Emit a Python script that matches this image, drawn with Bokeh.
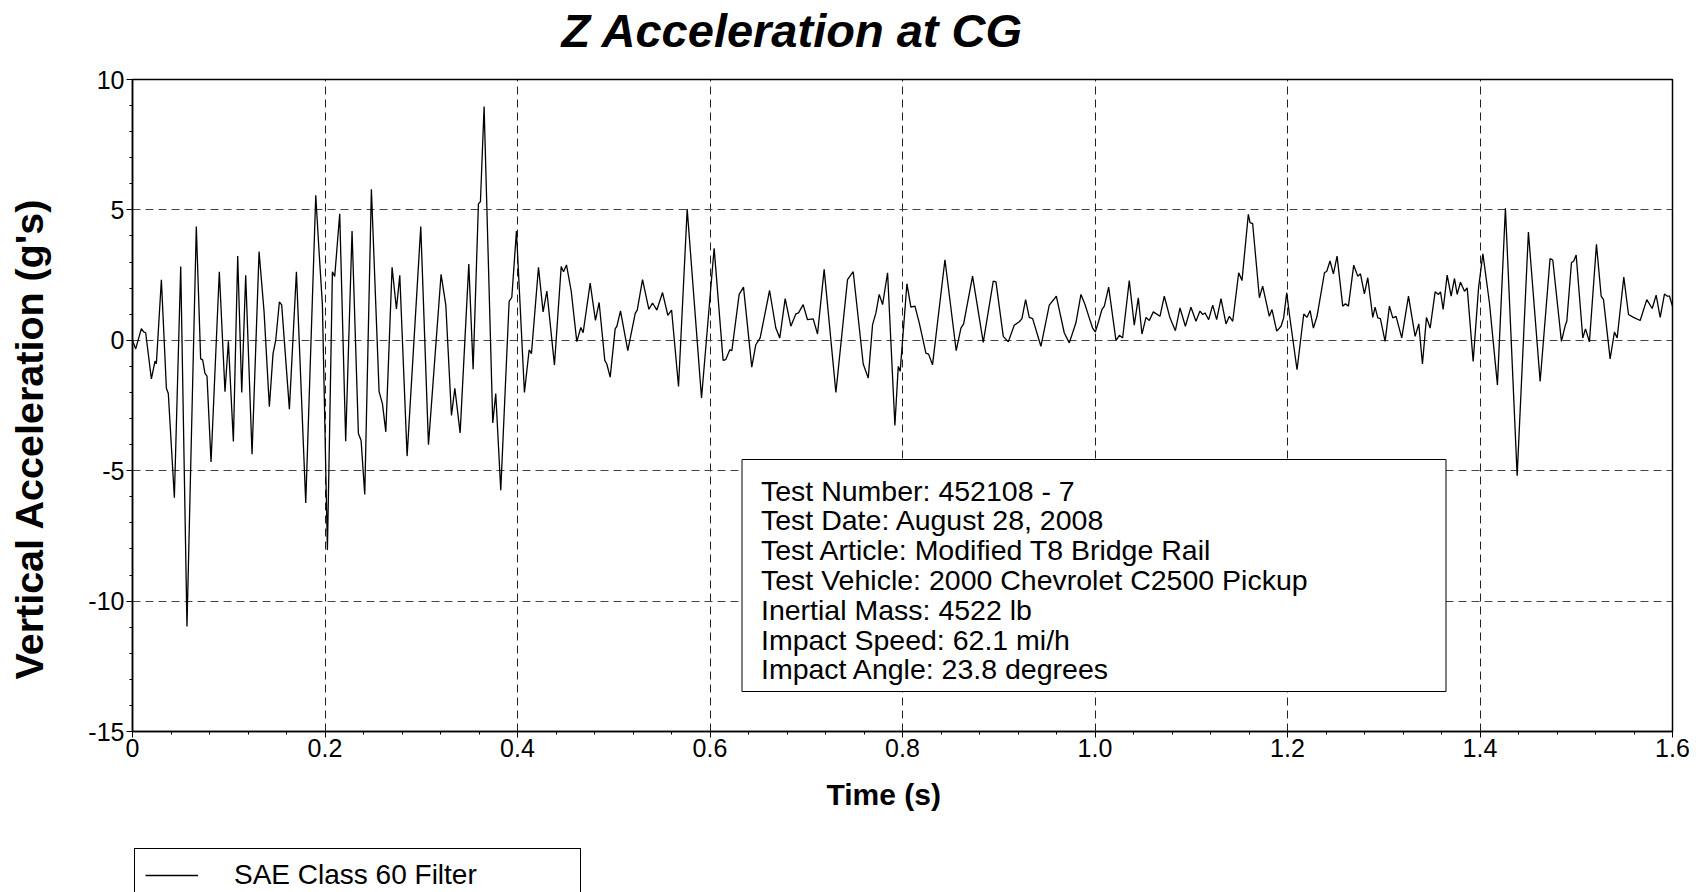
from bokeh.plotting import figure
from bokeh.layouts import column
from bokeh.models import (Range1d, FixedTicker, Label, Legend, LegendItem, Title,
                          BoxAnnotation, ColumnDataSource)
from bokeh.embed import file_html
from bokeh.resources import INLINE

# ---------------- data ----------------
time_s = [
    # 0 - 0.19 s
    0.0000, 0.0033, 0.0092, 0.0116, 0.0137, 0.0196, 0.0234, 0.0248, 0.0300, 0.0352,
    0.0372, 0.0435, 0.0501, 0.0566, 0.0663, 0.0708, 0.0729, 0.0753, 0.0774, 0.0816,
    0.0902, 0.0961, 0.0996, 0.1048, 0.1093, 0.1135, 0.1176, 0.1242, 0.1315, 0.1367,
    0.1422, 0.1460, 0.1488, 0.1526, 0.1550, 0.1630, 0.1703, 0.1800, 0.1904,
    # 0.19 - 0.39 s
    0.1940, 0.1973, 0.2025, 0.2049, 0.2077, 0.2101, 0.2153, 0.2215, 0.2281, 0.2347,
    0.2375, 0.2413, 0.2482, 0.2562, 0.2597, 0.2632, 0.2697, 0.2742, 0.2777, 0.2853,
    0.2995, 0.3075, 0.3206, 0.3255, 0.3314, 0.3349, 0.3404, 0.3494, 0.3539, 0.3594,
    0.3615, 0.3653, 0.3743, 0.3774, 0.3826, 0.3913,
    # 0.39 - 0.59 s
    0.3941, 0.3989, 0.4072, 0.4121, 0.4145, 0.4218, 0.4266, 0.4305, 0.4384, 0.4454,
    0.4478, 0.4509, 0.4558, 0.4616, 0.4658, 0.4682, 0.4755, 0.4810, 0.4848, 0.4907,
    0.4928, 0.4963, 0.5015, 0.5032, 0.5070, 0.5146, 0.5223, 0.5244, 0.5299, 0.5365,
    0.5403, 0.5448, 0.5507, 0.5562, 0.5601, 0.5673, 0.5763, 0.5912,
    # 0.60 - 0.79 s
    0.6043, 0.6136, 0.6164, 0.6206, 0.6227, 0.6303, 0.6348, 0.6434, 0.6476, 0.6521,
    0.6619, 0.6684, 0.6725, 0.6781, 0.6840, 0.6892, 0.6920, 0.6968, 0.7013, 0.7072,
    0.7117, 0.7186, 0.7308, 0.7429, 0.7488, 0.7592, 0.7644, 0.7689, 0.7724, 0.7758,
    0.7793, 0.7845, 0.7921,
    # 0.79 - 0.99 s
    0.7956, 0.7976, 0.8046, 0.8087, 0.8129, 0.8174, 0.8243, 0.8271, 0.8312, 0.8441,
    0.8558, 0.8607, 0.8635, 0.8728, 0.8839, 0.8943, 0.8971, 0.9047, 0.9099, 0.9161,
    0.9213, 0.9241, 0.9279, 0.9317, 0.9352, 0.9438, 0.9525, 0.9598, 0.9681, 0.9733,
    0.9802, 0.9854, 0.9896, 0.9941,
    # 1.00 - 1.20 s
    0.9975, 1.0003, 1.0038, 1.0072, 1.0097, 1.0142, 1.0218, 1.0253, 1.0287, 1.0356,
    1.0408, 1.0450, 1.0488, 1.0530, 1.0564, 1.0606, 1.0675, 1.0720, 1.0779, 1.0835,
    1.0883, 1.0939, 1.0997, 1.1049, 1.1091, 1.1119, 1.1143, 1.1181, 1.1223, 1.1264,
    1.1309, 1.1361, 1.1396, 1.1431, 1.1493, 1.1527, 1.1593, 1.1611, 1.1638, 1.1708,
    1.1742, 1.1811, 1.1839, 1.1888, 1.1933, 1.1960, 1.1992,
    # 1.20 - 1.40 s
    1.2020, 1.2099, 1.2169, 1.2203, 1.2235, 1.2269, 1.2307, 1.2384, 1.2408, 1.2442,
    1.2477, 1.2515, 1.2574, 1.2602, 1.2633, 1.2688, 1.2730, 1.2758, 1.2799, 1.2834,
    1.2886, 1.2910, 1.2938, 1.2965, 1.3014, 1.3059, 1.3094, 1.3128, 1.3187, 1.3257,
    1.3326, 1.3364, 1.3402, 1.3444, 1.3482, 1.3534, 1.3569, 1.3590, 1.3617, 1.3659,
    1.3700, 1.3735, 1.3763, 1.3797, 1.3839, 1.3867, 1.3929, 1.3985,
    # 1.40 - 1.60 s
    1.4030, 1.4098, 1.4181, 1.4264, 1.4386, 1.4503, 1.4625, 1.4728, 1.4756, 1.4846,
    1.4888, 1.4902, 1.4950, 1.4974, 1.4999, 1.5068, 1.5096, 1.5137, 1.5210, 1.5259,
    1.5283, 1.5352, 1.5397, 1.5425, 1.5494, 1.5543, 1.5595, 1.5664, 1.5733, 1.5789,
    1.5830, 1.5872, 1.5917, 1.5945, 1.5969, 1.6000,
]

accel_g = [
    # 0 - 0.19 s
    0.00, -0.33, 0.45, 0.32, 0.29, -1.48, -0.80, -0.90, 2.32, -1.84,
    -2.04, -6.04, 2.83, -10.97, 4.36, -0.71, -0.75, -1.27, -1.37, -4.67,
    2.63, -1.97, -0.04, -3.88, 3.23, -2.00, 2.49, -4.37, 3.40, 1.09,
    -2.55, -0.51, 0.00, 1.47, 1.36, -2.64, 2.63, -6.24, 5.56,
    # 0.19 - 0.39 s
    3.30, 1.36, -8.04, -3.24, 2.63, 2.45, 4.85, -3.87, 4.19, -3.57,
    -3.84, -5.91, 5.79, -1.97, -2.44, -3.51, 2.80, 1.20, 2.49, -4.44,
    4.36, -4.00, 2.53, 1.36, -2.88, -1.84, -3.55, 2.92, -1.11, 5.23,
    5.32, 8.96, -3.17, -2.04, -5.75, 1.49,
    # 0.39 - 0.59 s
    1.65, 4.19, -2.00, -0.37, -0.51, 2.80, 1.09, 1.89, -0.95, 2.83,
    2.63, 2.89, 1.89, -0.05, 0.49, 0.29, 2.19, 0.76, 1.45, -0.77,
    -0.91, -1.41, 0.45, 0.53, 1.13, -0.40, 1.03, 1.16, 2.33, 1.19,
    1.43, 1.16, 1.83, 0.96, 1.16, -1.77, 5.03, -2.21,
    # 0.60 - 0.79 s
    3.53, -0.77, -0.74, -0.36, -0.40, 1.76, 2.04, -1.03, -0.17, 0.09,
    1.91, 0.47, 0.09, 1.60, 0.54, 1.01, 1.05, 1.37, 0.79, 0.82,
    0.24, 2.72, -2.00, 2.33, 2.63, -0.91, -1.45, 0.60, 1.05, 1.76,
    1.37, 2.59, -3.27,
    # 0.79 - 0.99 s
    -1.00, -1.19, 2.17, 1.27, 1.31, 0.67, -0.49, -0.53, -0.94, 3.09,
    -0.40, 0.47, 0.63, 2.46, -0.08, 2.27, 2.24, 0.15, -0.06, 0.58,
    0.71, 0.83, 1.56, 0.88, 0.83, -0.23, 1.35, 1.69, 0.28, -0.10,
    0.67, 1.76, 1.37, 0.85,
    # 1.00 - 1.20 s
    0.47, 0.32, 0.73, 1.18, 1.31, 2.04, -0.01, 0.19, 0.09, 2.29,
    0.58, 1.63, 0.24, 0.88, 0.76, 1.09, 0.92, 1.69, 0.86, 0.37,
    1.24, 0.54, 1.27, 0.73, 1.12, 0.99, 1.05, 0.79, 1.35, 0.79,
    1.60, 0.63, 0.92, 0.73, 2.59, 2.29, 4.83, 4.51, 4.47, 1.63,
    2.08, 0.92, 1.18, 0.35, 0.54, 0.86, 1.82,
    # 1.20 - 1.40 s
    0.99, -1.13, 1.01, 0.88, 1.14, 0.47, 0.92, 2.59, 2.65, 3.04,
    2.55, 3.23, 1.31, 1.40, 1.31, 2.88, 2.46, 2.55, 1.78, 2.40,
    0.88, 1.27, 0.86, 0.83, -0.04, 1.31, 0.86, 0.92, 0.09, 1.69,
    0.15, 0.63, -0.91, 0.88, 0.47, 1.86, 1.76, 1.86, 1.18, 2.50,
    1.69, 2.37, 1.76, 2.23, 1.88, 2.01, -0.81, 2.01,
    # 1.40 - 1.60 s
    3.32, 1.44, -1.71, 5.06, -5.19, 4.15, -1.58, 3.13, 3.08, -0.04,
    0.60, 0.73, 2.97, 3.04, 3.27, 0.09, 0.44, -0.06, 3.68, 1.69,
    1.56, -0.71, 0.32, 0.09, 2.42, 0.99, 0.88, 0.76, 1.56, 1.22,
    1.73, 0.88, 1.78, 1.69, 1.69, 1.30,
]

assert len(time_s) == len(accel_g)

x_ticks = [0.0, 0.2, 0.4, 0.6, 0.8, 1.0, 1.2, 1.4, 1.6]
x_tick_labels = ["0", "0.2", "0.4", "0.6", "0.8", "1.0", "1.2", "1.4", "1.6"]
y_ticks = [-15, -10, -5, 0, 5, 10]
y_tick_labels = ["-15", "-10", "-5", "0", "5", "10"]

title_text = "Z Acceleration at CG"
x_label = "Time (s)"
y_label = "Vertical Acceleration (g's)"
legend_label = "SAE Class 60 Filter"
info_lines = [
    "Test Number: 452108 - 7",
    "Test Date:  August 28, 2008",
    "Test Article: Modified T8 Bridge Rail",
    "Test Vehicle: 2000 Chevrolet C2500 Pickup",
    "Inertial Mass: 4522 lb",
    "Impact Speed: 62.1 mi/h",
    "Impact Angle: 23.8 degrees",
]

# ---------------- layout / style ----------------
FONT = "Liberation Sans"
FRAME_W, FRAME_H = 1540, 652
BORDER_L, BORDER_R = 131, 30


def spacer(size):
    """A blank side panel that only reserves space."""
    return Title(text=" ", text_font_size="1px", standoff=size,
                 text_color="white", text_alpha=1.0)


p = figure(frame_width=FRAME_W, frame_height=FRAME_H,
           min_border_left=BORDER_L, min_border_right=BORDER_R,
           min_border_top=79, min_border_bottom=115,
           x_range=Range1d(0, 1.6), y_range=Range1d(-15, 10),
           output_backend="svg", toolbar_location=None,
           background_fill_color="white", border_fill_color="white")
p.outline_line_color = "black"
p.outline_line_width = 1.5
p.outline_line_alpha = 1.0

# title: a spacer next to the frame, then the title text
p.add_layout(spacer(18), "above")
p.add_layout(Title(text=title_text, align="left", offset=429, vertical_align="bottom",
                   standoff=3, text_font=FONT, text_font_style="bold italic",
                   text_font_size="47px", text_color="black"), "above")

xt = FixedTicker(ticks=x_ticks, minor_ticks=[i * 0.04 for i in range(41)])
yt = FixedTicker(ticks=y_ticks, minor_ticks=list(range(-15, 11)))
p.xaxis.ticker = xt
p.yaxis.ticker = yt
p.xgrid.ticker = xt
p.ygrid.ticker = yt
p.xaxis.major_label_overrides = {t: s for t, s in zip(x_ticks, x_tick_labels)}
p.yaxis.major_label_overrides = {t: s for t, s in zip(y_ticks, y_tick_labels)}

for ax in (p.xaxis, p.yaxis):
    ax.axis_line_color = "black"
    ax.axis_line_width = 1.5
    ax.major_tick_line_color = "black"
    ax.major_tick_line_width = 1
    ax.minor_tick_line_color = "black"
    ax.minor_tick_line_width = 1
    ax.major_tick_in = 0
    ax.major_tick_out = 6
    ax.minor_tick_in = 0
    ax.minor_tick_out = 3
    ax.major_label_text_font = FONT
    ax.major_label_text_font_size = "25px"
    ax.major_label_text_color = "black"
p.xaxis.major_label_standoff = 1
p.yaxis.major_label_standoff = 2

p.xgrid.grid_line_color = "#222222"
p.xgrid.grid_line_width = 1
p.xgrid.grid_line_dash = "8 5"
p.ygrid.grid_line_color = "#444444"
p.ygrid.grid_line_width = 1.2
p.ygrid.grid_line_dash = "8 5"

LINE_STYLE = dict(line_color="black", line_width=1.3)
src = ColumnDataSource(data=dict(t=time_s, a=accel_g))
p.line("t", "a", source=src, **LINE_STYLE)

# y axis label: left side, beyond a spacer
p.add_layout(spacer(24), "left")
p.add_layout(Title(text=y_label, align="left", offset=52, vertical_align="top",
                   standoff=12, text_font=FONT, text_font_style="bold",
                   text_font_size="39.5px", text_color="black"), "left")

# x axis label below
p.add_layout(Title(text=x_label, align="left", offset=694, vertical_align="top",
                   standoff=37, text_font=FONT, text_font_style="bold",
                   text_font_size="30px", text_color="black"), "below")

# info box inside the frame
p.add_layout(BoxAnnotation(left=609.5, right=1313.5, bottom=40, top=272,
                           left_units="screen", right_units="screen",
                           bottom_units="screen", top_units="screen",
                           fill_color="white", fill_alpha=1.0,
                           line_color="black", line_width=1, line_alpha=1.0))
for i, line in enumerate(info_lines):
    p.add_layout(Label(x=628.5, y=241 - i * 29.8, x_units="screen", y_units="screen",
                       text=line, text_align="left", text_baseline="middle",
                       text_font=FONT, text_font_size="28.5px", text_color="black"))

# ---------------- legend strip under the chart ----------------
# The strip shows the same series, but its ranges lie outside the data,
# so only the legend entry is visible there.
leg_fig = figure(frame_width=FRAME_W, frame_height=46,
                 min_border_left=BORDER_L, min_border_right=BORDER_R,
                 min_border_top=0, min_border_bottom=0,
                 x_range=Range1d(10, 11), y_range=Range1d(100, 101),
                 x_axis_location=None, y_axis_location=None,
                 output_backend="svg", toolbar_location=None,
                 background_fill_color="white", border_fill_color="white")
leg_fig.outline_line_color = None
leg_fig.xgrid.visible = False
leg_fig.ygrid.visible = False
leg_line = leg_fig.line("t", "a", source=src, **LINE_STYLE)
legend = Legend(items=[LegendItem(label=legend_label, renderers=[leg_line])],
                location="top_left", orientation="vertical",
                padding=10, margin=2, spacing=0,
                glyph_width=53, glyph_height=20, label_standoff=36,
                label_width=336, label_height=25,
                label_text_font=FONT, label_text_font_size="28px",
                label_text_color="black",
                border_line_color="black", border_line_width=1, border_line_alpha=1.0,
                background_fill_color="white", background_fill_alpha=1.0)
leg_fig.add_layout(legend)

layout = column(p, leg_fig, spacing=0)
open("out.html", "w").write(file_html(layout, INLINE))
